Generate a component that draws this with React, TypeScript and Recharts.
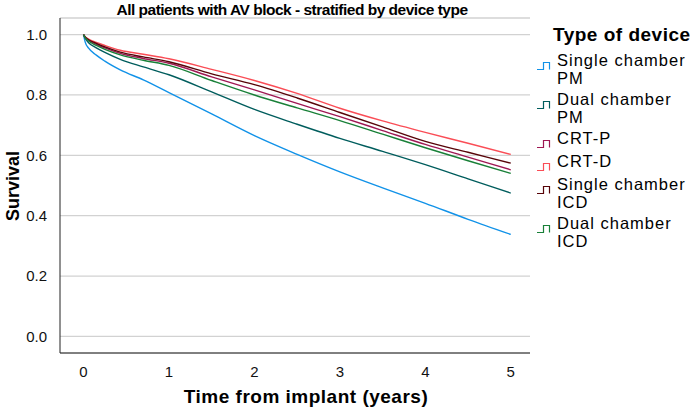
import React from 'react';
import { LineChart, Line, XAxis, YAxis, CartesianGrid } from 'recharts';

// years since implant
const times = [0, 0.02, 0.06, 0.15, 0.25, 0.43, 0.7, 1, 1.5, 2, 2.5, 3, 3.5, 4, 4.5, 5];

const singlePM = [1, 0.975, 0.955, 0.932, 0.912, 0.883, 0.85, 0.808, 0.737, 0.665, 0.603, 0.545, 0.492, 0.441, 0.388, 0.338];
const dualPM = [1, 0.988, 0.973, 0.956, 0.941, 0.918, 0.893, 0.867, 0.81, 0.752, 0.703, 0.656, 0.613, 0.569, 0.522, 0.475];
const crtP = [1, 0.991, 0.981, 0.968, 0.956, 0.938, 0.921, 0.905, 0.86, 0.817, 0.772, 0.728, 0.682, 0.636, 0.594, 0.552];
const crtD = [1, 0.993, 0.985, 0.974, 0.964, 0.948, 0.935, 0.92, 0.885, 0.848, 0.805, 0.756, 0.714, 0.676, 0.64, 0.603];
const singleICD = [1, 0.992, 0.983, 0.971, 0.959, 0.942, 0.926, 0.91, 0.87, 0.834, 0.79, 0.742, 0.694, 0.646, 0.61, 0.574];
const dualICD = [1, 0.99, 0.979, 0.964, 0.951, 0.933, 0.915, 0.898, 0.848, 0.8, 0.757, 0.715, 0.67, 0.625, 0.582, 0.54];

const xTicks = [0, 1, 2, 3, 4, 5];
const yTicks = [0, 0.2, 0.4, 0.6, 0.8, 1.0];

const series = [
  { key: 'singlePM', label: ['Single chamber', 'PM'], color: '#1192e8', values: singlePM },
  { key: 'dualPM', label: ['Dual chamber', 'PM'], color: '#005d5d', values: dualPM },
  { key: 'crtP', label: ['CRT-P'], color: '#9f1853', values: crtP },
  { key: 'crtD', label: ['CRT-D'], color: '#fa4d56', values: crtD },
  { key: 'singleICD', label: ['Single chamber', 'ICD'], color: '#570408', values: singleICD },
  { key: 'dualICD', label: ['Dual chamber', 'ICD'], color: '#198038', values: dualICD },
];

const FONT = '"Liberation Sans", Arial, sans-serif';

const rows = times.map((t, i) => {
  const row: Record<string, number> = { t };
  series.forEach((s) => {
    row[s.key] = s.values[i];
  });
  return row;
});

function StepIcon({ color }: { color: string }) {
  return (
    <svg width={14} height={10} style={{ flex: 'none', marginTop: 9 }}>
      <path d="M0,8.5 H6.5 V1.5 H12.5 V8.5" fill="none" stroke={color} strokeWidth={1.2} />
    </svg>
  );
}

export default function App() {
  return (
    <div style={{ position: 'absolute', left: 0, top: 0, width: 698, height: 410, fontFamily: FONT, background: '#fff' }}>
      <LineChart width={698} height={410} data={rows} margin={{ top: 18, right: 168, bottom: 0, left: 0 }}>
        <CartesianGrid vertical={false} stroke="#d2d2d2" strokeWidth={1.3} />
        <XAxis
          type="number"
          dataKey="t"
          domain={[-0.275, 5.225]}
          ticks={xTicks}
          height={57}
          tickLine={false}
          axisLine={{ stroke: '#222' }}
          tick={{ fontSize: 15, fill: '#111', fontFamily: FONT }}
          tickMargin={7}
        />
        <YAxis
          type="number"
          domain={[-0.055, 1.055]}
          ticks={yTicks}
          width={60}
          tickLine={false}
          axisLine={{ stroke: '#222' }}
          tickFormatter={(v: number) => v.toFixed(1)}
          tick={{ fontSize: 15, fill: '#111', fontFamily: FONT }}
          tickMargin={7}
        />
        {series.map((s) => (
          <Line
            key={s.key}
            type="monotone"
            dataKey={s.key}
            stroke={s.color}
            strokeWidth={1.4}
            dot={false}
            isAnimationActive={false}
          />
        ))}
      </LineChart>

      <div style={{ position: 'absolute', left: 292, top: 10, transform: 'translate(-50%, -50%)', fontSize: 15.5, letterSpacing: -0.5, fontWeight: 'bold', whiteSpace: 'nowrap' }}>
        All patients with AV block - stratified by device type
      </div>
      <div style={{ position: 'absolute', left: 306, top: 397, transform: 'translate(-50%, -50%)', fontSize: 19, letterSpacing: 0.5, fontWeight: 'bold', whiteSpace: 'nowrap' }}>
        Time from implant (years)
      </div>
      <div style={{ position: 'absolute', left: 13, top: 186, transform: 'translate(-50%, -50%) rotate(-90deg)', fontSize: 18, fontWeight: 'bold', whiteSpace: 'nowrap' }}>
        Survival
      </div>

      <div style={{ position: 'absolute', left: 537, top: 23, width: 161 }}>
        <div style={{ fontSize: 19, letterSpacing: 0.5, fontWeight: 'bold', marginLeft: 16, lineHeight: '24px', whiteSpace: 'nowrap' }}>Type of device</div>
        {series.map((s, i) => (
          <div key={s.key} style={{ display: 'flex', alignItems: 'flex-start', marginTop: i === 0 ? 5 : 4 }}>
            <StepIcon color={s.color} />
            <div style={{ fontSize: 16.5, letterSpacing: 1, lineHeight: '17.5px', marginLeft: 6, whiteSpace: 'nowrap' }}>
              {s.label.map((l) => (
                <div key={l}>{l}</div>
              ))}
            </div>
          </div>
        ))}
      </div>
    </div>
  );
}
